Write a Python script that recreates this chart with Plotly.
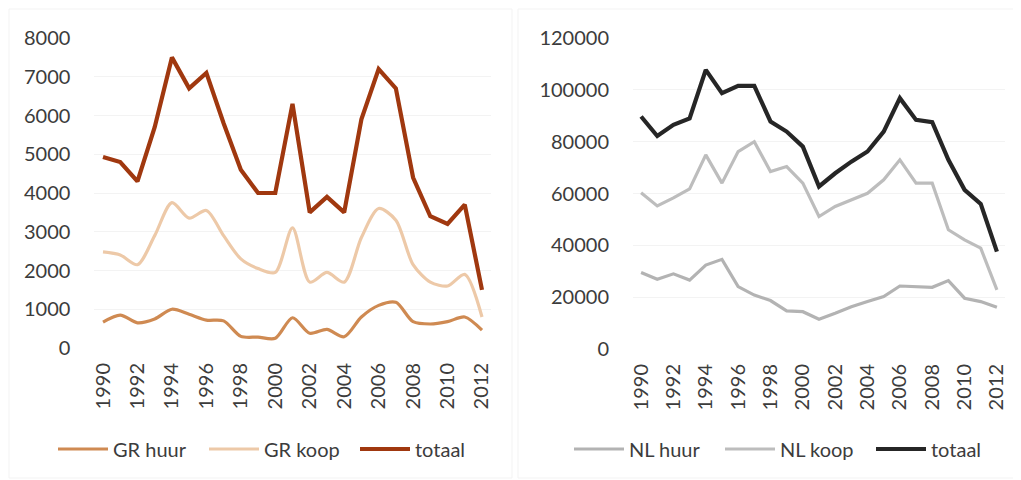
import plotly.graph_objects as go

years = list(range(1990, 2013))

gr_huur = [670, 850, 650, 750, 1000, 870, 720, 700, 300, 280, 250, 780, 380, 480, 290, 800, 1100, 1180, 680, 620, 680, 800, 460]
gr_koop = [2480, 2400, 2150, 2900, 3750, 3350, 3550, 2900, 2300, 2050, 1950, 3100, 1700, 1950, 1700, 2850, 3600, 3300, 2150, 1700, 1600, 1900, 800]
gr_totaal = [4930, 4800, 4300, 5700, 7500, 6700, 7100, 5800, 4600, 4000, 4000, 6300, 3500, 3900, 3500, 5900, 7200, 6700, 4400, 3400, 3200, 3700, 1500]

nl_huur = [29500, 26900, 29000, 26600, 32400, 34600, 24100, 20800, 18700, 14700, 14400, 11500, 13800, 16300, 18300, 20200, 24300, 24100, 23800, 26400, 19600, 18300, 16100]
nl_koop = [60300, 55200, 58300, 61800, 74900, 64000, 76200, 80000, 68500, 70400, 64000, 51100, 55000, 57500, 60100, 65300, 73000, 64000, 64000, 46000, 42100, 38900, 22800]
nl_totaal = [89700, 82200, 86500, 89000, 107700, 98700, 101500, 101500, 87800, 83900, 78100, 62700, 67800, 72300, 76200, 83900, 96800, 88400, 87500, 73000, 61400, 56000, 37600]

FONT = "Lato"
TXT = "#3C3C3C"
W, H, OFF = 1021, 480, 8  # page body margin offset


def fx(px):
    return (px - OFF) / W


def fy(py):
    return 1 - (py - OFF) / H


fig = go.Figure()


def add(x, y, name, color, width, xa, ya, legend, shape="linear"):
    fig.add_trace(go.Scatter(
        x=x, y=y, name=name, mode="lines",
        line=dict(color=color, width=width, shape=shape, smoothing=0.8),
        xaxis=xa, yaxis=ya, legend=legend, showlegend=True,
    ))


add(years, gr_huur, "GR huur", "#CF8A52", 3.2, "x", "y", "legend", "spline")
add(years, gr_koop, "GR koop", "#EDC9A8", 3.2, "x", "y", "legend", "spline")
add(years, gr_totaal, "totaal", "#A0380F", 4.2, "x", "y", "legend")

add(years, nl_huur, "NL huur", "#B3B3B3", 3.2, "x2", "y2", "legend2")
add(years, nl_koop, "NL koop", "#BDBDBD", 3.2, "x2", "y2", "legend2")
add(years, nl_totaal, "totaal", "#262626", 4.2, "x2", "y2", "legend2")

xcommon = dict(
    range=[1989.5, 2012.5], tickmode="linear", tick0=1990, dtick=2,
    tickangle=-90, showgrid=False, zeroline=False, showline=False,
    ticks="outside", ticklen=6, tickcolor="rgba(0,0,0,0)",
    tickfont=dict(family=FONT, size=20, color=TXT), fixedrange=True,
    automargin=False,
)
ycommon = dict(
    showgrid=True, gridcolor="#F3F3F3", gridwidth=1, zeroline=False, showline=False,
    ticks="outside", ticklen=19, tickcolor="rgba(0,0,0,0)", tickformat="d",
    tickfont=dict(family=FONT, size=20, color=TXT), fixedrange=True,
    automargin=False,
)

legfont = dict(family=FONT, size=20, color=TXT)

fig.update_layout(
    width=W, height=H,
    margin=dict(l=0, r=0, t=0, b=0, autoexpand=False),
    paper_bgcolor="white", plot_bgcolor="white",
    xaxis=dict(domain=[fx(94.4), fx(490.6)], anchor="y", **xcommon),
    yaxis=dict(domain=[fy(348), fy(38)], anchor="x", range=[0, 8000], dtick=1000, **ycommon),
    xaxis2=dict(domain=[fx(633), fx(1005)], anchor="y2", **xcommon),
    yaxis2=dict(domain=[fy(349), fy(38)], anchor="x2", range=[0, 120000], dtick=20000, **ycommon),
    legend=dict(orientation="h", x=45 / W, xanchor="left", y=fy(449), yanchor="middle",
                font=legfont, entrywidth=86, itemwidth=50,
                bgcolor="rgba(0,0,0,0)"),
    legend2=dict(orientation="h", x=561 / W, xanchor="left", y=fy(449), yanchor="middle",
                 font=legfont, entrywidth=86, itemwidth=50,
                 bgcolor="rgba(0,0,0,0)"),
    shapes=[
        dict(type="rect", xref="paper", yref="paper", x0=fx(9), x1=fx(512), y0=fy(478), y1=fy(9),
             line=dict(color="#F3F3F3", width=1)),
        dict(type="rect", xref="paper", yref="paper", x0=fx(518), x1=fx(1019), y0=fy(478), y1=fy(9),
             line=dict(color="#F3F3F3", width=1)),
    ],
)

fig.write_html("out.html")
